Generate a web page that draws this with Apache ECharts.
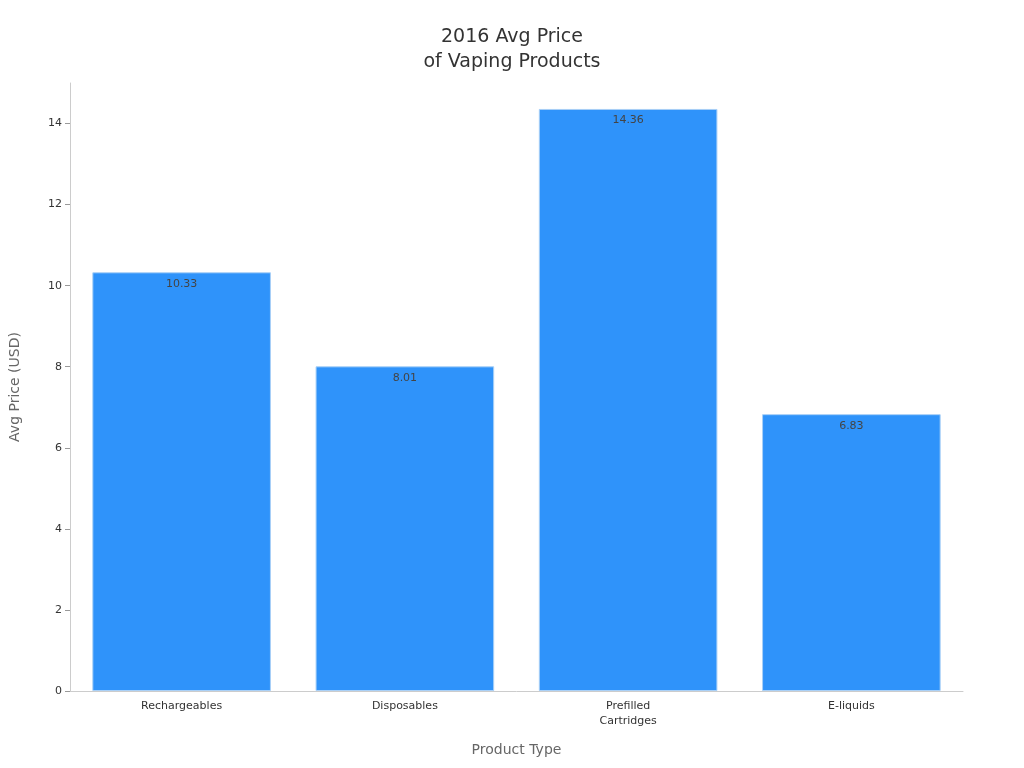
<!DOCTYPE html>
<html>
<head>
<meta charset="utf-8">
<script src="https://cdn.jsdelivr.net/npm/echarts@6/dist/echarts.min.js"></script>
<style>html,body{margin:0;padding:0;background:#fff}#chart{width:1024px;height:768px}</style>
</head>
<body>
<div id="chart"></div>
<script>
var categories = ['Rechargeables', 'Disposables', 'Prefilled\nCartridges', 'E-liquids'];
var avgPrices = [10.33, 8.01, 14.36, 6.83];
var yTicks = { min: 0, max: 15, interval: 2 };

var chart = echarts.init(document.getElementById('chart'));
chart.setOption({
    animation: false,
    textStyle: { fontFamily: 'DejaVu Sans' },
    title: {
        text: '2016 Avg Price\nof Vaping Products',
        left: 'center',
        top: 20,
        textStyle: { fontSize: 19, fontWeight: 'normal', color: '#333', lineHeight: 25 }
    },
    grid: { left: 60, right: 61, top: 83, bottom: 77 },
    xAxis: {
        type: 'category',
        data: categories,
        name: 'Product Type',
        nameLocation: 'middle',
        nameGap: 52,
        nameTextStyle: { fontSize: 14, color: '#666' },
        axisLine: { lineStyle: { color: '#ccc' } },
        axisTick: { show: false },
        axisLabel: { fontSize: 11, color: '#333', lineHeight: 15 }
    },
    yAxis: {
        type: 'value',
        min: yTicks.min,
        max: yTicks.max,
        interval: yTicks.interval,
        name: 'Avg Price (USD)',
        nameLocation: 'middle',
        nameGap: 48,
        nameTextStyle: { fontSize: 14, color: '#666' },
        axisLine: { show: true, lineStyle: { color: '#ccc' } },
        axisTick: { show: true, lineStyle: { color: '#999' } },
        axisLabel: { fontSize: 11, color: '#333', showMaxLabel: false },
        splitLine: { show: false }
    },
    series: [{
        type: 'bar',
        data: avgPrices,
        barCategoryGap: '20%',
        itemStyle: { color: '#2f93fa', borderColor: '#a9d0f7', borderWidth: 1 },
        label: {
            show: true,
            position: 'insideTop',
            distance: 6,
            fontSize: 11,
            color: '#444'
        }
    }]
});
</script>
</body>
</html>
